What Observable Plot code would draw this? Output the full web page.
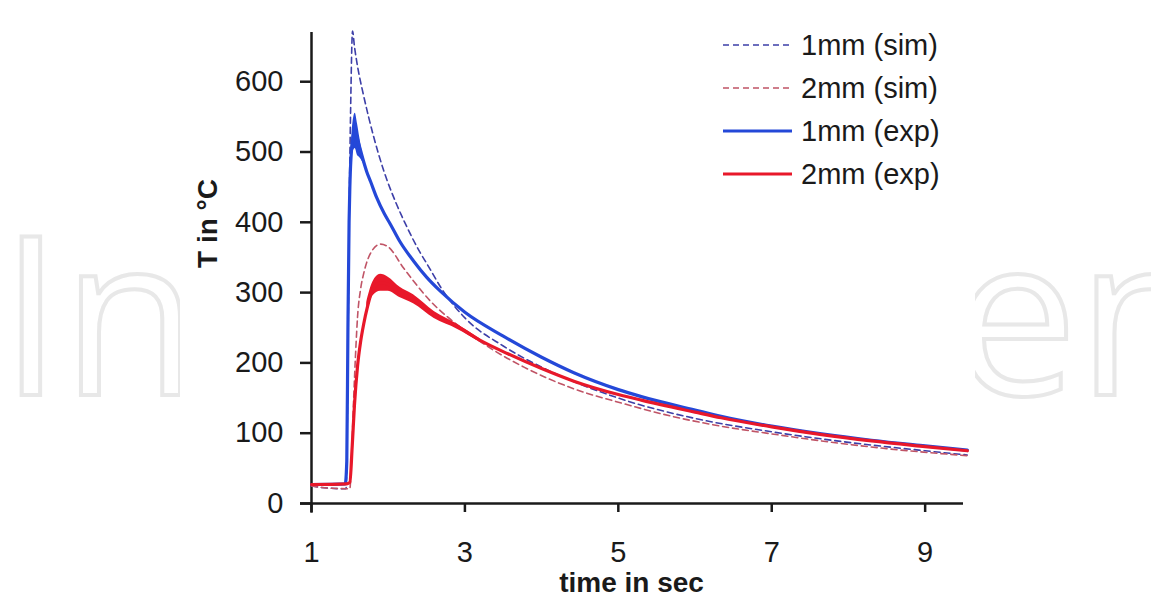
<!DOCTYPE html>
<html>
<head>
<meta charset="utf-8">
<script src="https://cdn.jsdelivr.net/npm/d3@7"></script>
<script src="https://cdn.jsdelivr.net/npm/@observablehq/plot@0.6"></script>
<style>
  html, body { margin: 0; padding: 0; background: #fff; }
  #wrap { position: relative; width: 1151px; height: 605px; overflow: hidden;
          font-family: Arial, "Liberation Sans", sans-serif; }
  #wm, #chart, #legend { position: absolute; left: 0; top: 0; }
</style>
</head>
<body>
<div id="wrap">
  <svg id="wm" width="1151" height="605"></svg>
  <div id="chart"></div>
  <svg id="legend" width="1151" height="605"></svg>
</div>
<script>
// Axis ticks
const xTicks = [1, 3, 5, 7, 9];
const yTicks = [0, 100, 200, 300, 400, 500, 600];

// 1mm simulation (time in s, temperature in °C)
const sim1Time = [1.0, 1.2, 1.45, 1.47, 1.49, 1.51, 1.535, 1.56, 1.6, 1.68, 1.81, 1.94, 2.1, 2.25, 2.4, 2.51, 2.7, 3.0, 3.5, 4.0, 5.0, 6.0, 7.0, 8.0, 9.0, 9.55];
const sim1Temp = [25, 22, 21, 150, 400, 560, 672, 650, 622, 580, 522, 474, 428, 392, 360, 340, 305, 264, 224, 194, 150, 121, 102, 87, 75, 69];

// 2mm simulation
const sim2Time = [1.0, 1.2, 1.5, 1.52, 1.55, 1.58, 1.6, 1.64, 1.68, 1.78, 1.9, 2.0, 2.2, 2.55, 3.0, 3.42, 3.77, 4.4, 5.07, 5.7, 6.34, 7.0, 7.65, 8.5, 9.55];
const sim2Temp = [25, 22, 21, 60, 150, 225, 265, 305, 327, 358, 369, 365, 335, 288, 246, 215, 194, 164, 142, 124, 110, 99, 89, 78, 68];

// 1mm experiment
const exp1Time = [1.0, 1.44, 1.46, 1.475, 1.49, 1.5, 1.53, 1.57, 1.6, 1.63, 1.67, 1.72, 1.77, 1.85, 1.95, 2.03, 2.15, 2.33, 2.5, 2.68, 3.0, 3.5, 4.0, 4.42, 5.0, 5.3, 6.0, 6.34, 7.0, 7.65, 8.3, 9.0, 9.55];
const exp1Temp = [27, 28, 60, 250, 400, 450, 512, 530, 518, 506, 490, 472, 458, 435, 412, 397, 373, 345, 322, 302, 272, 238, 208, 186, 162, 152, 133, 124, 110, 99, 90, 82, 76];
// scatter of the 1mm measurement around its peak
const exp1BandTime = [1.5, 1.53, 1.57, 1.6, 1.63, 1.67, 1.72];
const exp1BandLow  = [440, 495, 505, 495, 492, 485, 470];
const exp1BandHigh = [460, 530, 555, 540, 520, 495, 475];

// 2mm experiment
const exp2Time = [1.0, 1.46, 1.5, 1.53, 1.56, 1.6, 1.64, 1.68, 1.73, 1.8, 1.9, 2.0, 2.15, 2.33, 2.6, 2.9, 3.2, 3.56, 4.0, 4.42, 5.0, 5.3, 6.0, 6.34, 7.0, 7.65, 8.3, 9.0, 9.55];
const exp2Temp = [27, 28, 30, 80, 140, 195, 230, 255, 280, 305, 314, 312, 300, 290, 268, 252, 232, 213, 192, 174, 155, 147, 130, 122, 109, 98, 89, 81, 75];
// scatter of the 2mm measurement around its peak
const exp2BandTime = [1.72, 1.8, 1.9, 2.0, 2.15, 2.33, 2.6, 2.9, 3.2];
const exp2BandLow  = [272, 295, 302, 302, 293, 284, 263, 248, 229];
const exp2BandHigh = [286, 315, 326, 322, 308, 297, 273, 255, 234];

// Legend entries
const legendLabels = ["1mm (sim)", "2mm (sim)", "1mm (exp)", "2mm (exp)"];
const legendColors = ["#3d3fa8", "#c05466", "#2448d8", "#e8182a"];
const legendDash   = ["6,4", "6,4", null, null];
const legendWidth  = [1.6, 1.6, 3.2, 3.2];

const zip = (t, v) => t.map((x, i) => ({t: x, T: v[i]}));
const band = (t, lo, hi) => t.map((x, i) => ({t: x, lo: lo[i], hi: hi[i]}));

const sim1 = zip(sim1Time, sim1Temp);
const sim2 = zip(sim2Time, sim2Temp);
const exp1 = zip(exp1Time, exp1Temp);
const exp2 = zip(exp2Time, exp2Temp);
const exp1Band = band(exp1BandTime, exp1BandLow, exp1BandHigh);
const exp2Band = band(exp2BandTime, exp2BandLow, exp2BandHigh);

const ink = "#1a1a1a";

const chart = Plot.plot({
  width: 1151,
  height: 605,
  marginLeft: 311,
  marginRight: 188,
  marginTop: 32,
  marginBottom: 102,
  x: {domain: [1, 9.5]},
  y: {domain: [0, 670]},
  style: {
    fontFamily: "Arial, 'Liberation Sans', sans-serif",
    fontSize: "29px",
    color: ink,
    background: "transparent",
    overflow: "visible"
  },
  marks: [
    Plot.axisX({ticks: xTicks, tickSize: 9, tickPadding: 29, label: null, strokeWidth: 2.5}),
    Plot.axisY({ticks: yTicks, tickSize: 11, tickPadding: 17, label: null, strokeWidth: 2.5}),
    Plot.ruleY([0], {x1: 0.857, x2: 9.5, stroke: ink, strokeWidth: 2.5}),
    Plot.ruleX([1], {y1: -14, y2: 670, stroke: ink, strokeWidth: 2.5}),

    Plot.line(sim1, {x: "t", y: "T", stroke: legendColors[0], strokeWidth: legendWidth[0], strokeDasharray: legendDash[0], curve: "monotone-x"}),
    Plot.line(sim2, {x: "t", y: "T", stroke: legendColors[1], strokeWidth: legendWidth[1], strokeDasharray: legendDash[1], curve: "monotone-x"}),

    Plot.areaY(exp1Band, {x: "t", y1: "lo", y2: "hi", fill: legendColors[2], curve: "monotone-x"}),
    Plot.line(exp1, {x: "t", y: "T", stroke: legendColors[2], strokeWidth: legendWidth[2], curve: "monotone-x"}),
    Plot.areaY(exp2Band, {x: "t", y1: "lo", y2: "hi", fill: legendColors[3], curve: "monotone-x"}),
    Plot.line(exp2, {x: "t", y: "T", stroke: legendColors[3], strokeWidth: legendWidth[3], curve: "monotone-x"}),

    Plot.text(["time in sec"], {frameAnchor: "bottom", dx: -6, dy: 80, lineAnchor: "middle", fontSize: 28, fontWeight: "bold", fill: ink}),
    Plot.text(["T in °C"], {frameAnchor: "left", dx: -103, rotate: -90, lineAnchor: "middle", fontSize: 28, fontWeight: "bold", fill: ink})
  ]
});
document.getElementById("chart").appendChild(chart);

// Faint publisher watermark: only the parts outside the white chart panel show,
// so the word is laid out once and its two visible ends are kept as separate texts.
const wm = d3.select("#wm");
const wmWord = "IntechOpen";
const wmStyle = sel => sel
  .attr("y", 395)
  .attr("font-family", "'Open Sans', sans-serif")
  .attr("font-size", 222)
  .attr("fill", "#ffffff")
  .attr("stroke", "#e8e8e8")
  .attr("stroke-width", 4);
const probe = wmStyle(wm.append("text").attr("x", 0)).text(wmWord);
const tailStart = probe.node().getStartPositionOfChar(8).x;
probe.remove();
wmStyle(wm.append("text").attr("x", 0)).text(wmWord.slice(0, 2));
wmStyle(wm.append("text").attr("x", tailStart)).text(wmWord.slice(8));
wm.append("rect").attr("x", 180).attr("y", 0).attr("width", 795).attr("height", 605).attr("fill", "#ffffff");

// Legend in the upper right corner
const lg = d3.select("#legend");
legendLabels.forEach((label, i) => {
  const cy = 45 + i * 43;
  lg.append("line")
    .attr("x1", 723).attr("x2", 792).attr("y1", cy).attr("y2", cy)
    .attr("stroke", legendColors[i])
    .attr("stroke-width", legendWidth[i])
    .attr("stroke-dasharray", legendDash[i]);
  lg.append("text")
    .attr("x", 801).attr("y", cy).attr("dy", "0.35em")
    .attr("font-family", "Arial, 'Liberation Sans', sans-serif")
    .attr("font-size", 29)
    .attr("fill", ink)
    .text(label);
});
</script>
</body>
</html>
